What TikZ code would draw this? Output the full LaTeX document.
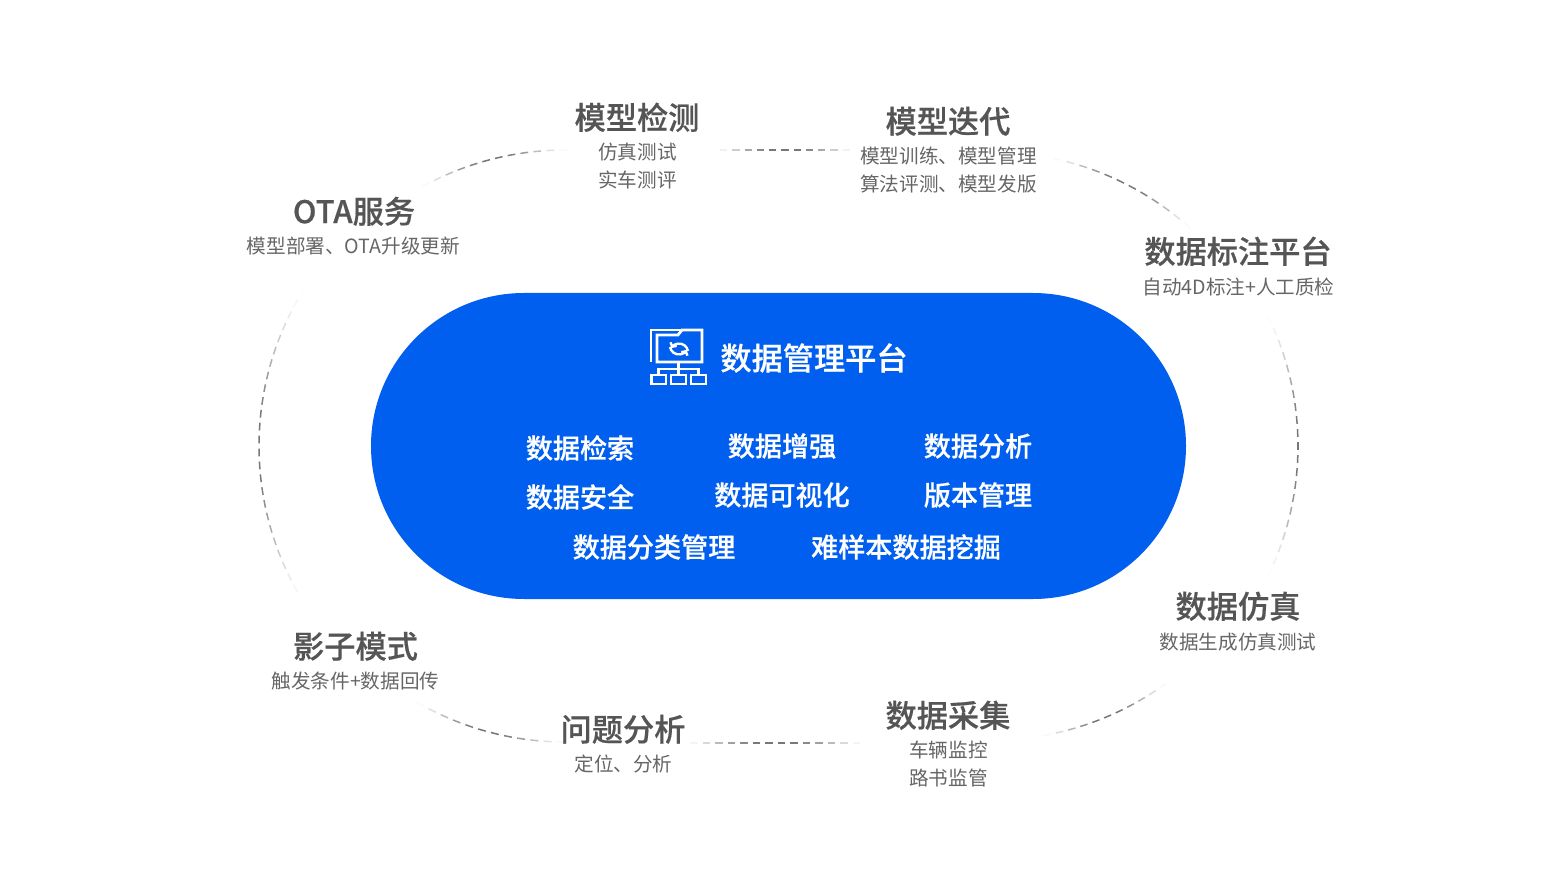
\documentclass[tikz,border=0pt]{standalone}
\usepackage{fontspec}
\setmainfont{Noto Sans CJK SC}
\newfontfamily\medfont[FakeBold=0.5]{Noto Sans CJK SC Medium}
\usetikzlibrary{arrows.meta}
\definecolor{platblue}{HTML}{005FEE}
\definecolor{titlegrey}{HTML}{555555}
\definecolor{subgrey}{HTML}{666666}
\definecolor{dashgrey}{HTML}{777777}
\tikzset{
  titlenode/.style={text=titlegrey,font=\fontsize{31.2}{31}\medfont,inner sep=0pt},
  subnode/.style={text=subgrey,font=\fontsize{19.6}{20}\selectfont,inner sep=0pt},
  bluenode/.style={text=white,font=\fontsize{27.1}{27}\medfont,inner sep=0pt},
  iconline/.style={draw=white,line width=2.8pt},
  dashseg/.style={draw=dashgrey,line width=1.5pt}
}
% faded dashed arc: centre x, centre y, radius, start angle, end angle
\newcommand{\fadearc}[5]{%
  \pgfmathsetmacro{\arcn}{int(abs(#5-#4)*3.14159/180*#3/13)}%
  \pgfmathsetmacro{\arcstep}{(#5-#4)/(\arcn+0.6)}%
  \foreach \k in {0,...,\arcn}{%
    \pgfmathsetmacro{\aa}{#4+\k*\arcstep}%
    \pgfmathsetmacro{\ab}{\aa+0.6*\arcstep}%
    \pgfmathsetmacro{\op}{min(1,1.05*sin(180*(\k+0.5)/(\arcn+1))^1.6)}%
    \draw[dashseg,draw opacity=\op] ({#1+#3*cos(\aa)},{#2-#3*sin(\aa)}) -- ({#1+#3*cos(\ab)},{#2-#3*sin(\ab)});%
  }%
}
% faded dashed straight line at height y from x0 to x1
\newcommand{\fadeline}[3]{%
  \pgfmathsetmacro{\arcn}{int(abs(#3-#2)/13)}%
  \pgfmathsetmacro{\arcstep}{(#3-#2)/(\arcn+0.6)}%
  \foreach \k in {0,...,\arcn}{%
    \pgfmathsetmacro{\aa}{#2+\k*\arcstep}%
    \pgfmathsetmacro{\ab}{\aa+0.6*\arcstep}%
    \pgfmathsetmacro{\op}{min(1,1.05*sin(180*(\k+0.5)/(\arcn+1))^1.2)}%
    \draw[dashseg,draw opacity=\op] (\aa,#1) -- (\ab,#1);%
  }%
}
\begin{document}
\begin{tikzpicture}[x=1pt,y=-1pt]
\path[use as bounding box,fill=white] (0,0) rectangle (1559,877);
% outer dashed ring
\fadearc{555.5}{446}{296.5}{148}{212}
\fadearc{565}{446}{296}{118.8}{89.6}
\fadeline{150}{720}{850}
\fadearc{992}{448}{296}{78}{48}
\fadearc{1001.5}{446}{296.5}{26}{-26}
\fadearc{992}{444}{296}{-54}{-80}
\fadeline{743}{690}{860}
\fadearc{565}{446}{296}{240}{270}
% platform
\fill[platblue,rounded corners=153pt] (371,293) rectangle (1186,599);
% icon
\draw[iconline] (651,362) -- (651,330) -- (682,330);
\draw[iconline] (657,362) -- (657,335) -- (678,335) -- (682,330) -- (702,330) -- (702,362) -- cycle;
\draw[iconline] (678.5,362) -- (678.5,375);
\draw[iconline] (658.5,375) -- (658.5,369) -- (698.5,369) -- (698.5,375);
\draw[iconline] (651.5,375) rectangle (666,384);
\draw[iconline] (671,375) rectangle (686,384);
\draw[iconline] (691,375) rectangle (706,384);
\draw[draw=white,line width=2.4pt,-{Straight Barb[length=3pt,width=7pt]}] (670,347) arc[start angle=170,end angle=30,radius=9];
\draw[draw=white,line width=2.4pt,-{Straight Barb[length=3pt,width=7pt]}] (688,351) arc[start angle=-10,end angle=-150,radius=9];
% platform text
\node[text=white,font=\fontsize{31.2}{31}\medfont,inner sep=0pt] (plat) at (814,358) {数据管理平台};
\node[bluenode] (b1) at (580,448) {数据检索};
\node[bluenode] (b2) at (782,446) {数据增强};
\node[bluenode] (b3) at (978,446) {数据分析};
\node[bluenode] (b4) at (580,497) {数据安全};
\node[bluenode] (b5) at (782,495) {数据可视化};
\node[bluenode] (b6) at (978,495) {版本管理};
\node[bluenode] (b7) at (654,547) {数据分类管理};
\node[bluenode] (b8) at (906,547) {难样本数据挖掘};
% surrounding labels
\node[titlenode] (t1) at (637,117.3) {模型检测};
\node[subnode] (s1a) at (637.5,151.7) {仿真测试};
\node[subnode] (s1b) at (637.5,179.7) {实车测评};
\node[titlenode] (t2) at (948,121.3) {模型迭代};
\node[subnode] (s2a) at (948.5,155.7) {模型训练、模型管理};
\node[subnode] (s2b) at (948.5,183.7) {算法评测、模型发版};
\node[titlenode] (t3) at (354,211.3) {OTA服务};
\node[subnode] (s3) at (353.5,245.7) {模型部署、OTA升级更新};
\node[titlenode] (t4) at (1238,251.3) {数据标注平台};
\node[subnode] (s4) at (1238.5,286.7) {自动4D标注+人工质检};
\node[titlenode] (t5) at (1238,606.3) {数据仿真};
\node[subnode] (s5) at (1238,641.7) {数据生成仿真测试};
\node[titlenode] (t6) at (355.5,646.3) {影子模式};
\node[subnode] (s6) at (355.5,680.7) {触发条件+数据回传};
\node[titlenode] (t7) at (623,729.3) {问题分析};
\node[subnode] (s7) at (623.5,763.7) {定位、分析};
\node[titlenode] (t8) at (948,715.3) {数据采集};
\node[subnode] (s8a) at (948.5,749.7) {车辆监控};
\node[subnode] (s8b) at (948.5,777.7) {路书监管};
\end{tikzpicture}
\end{document}
